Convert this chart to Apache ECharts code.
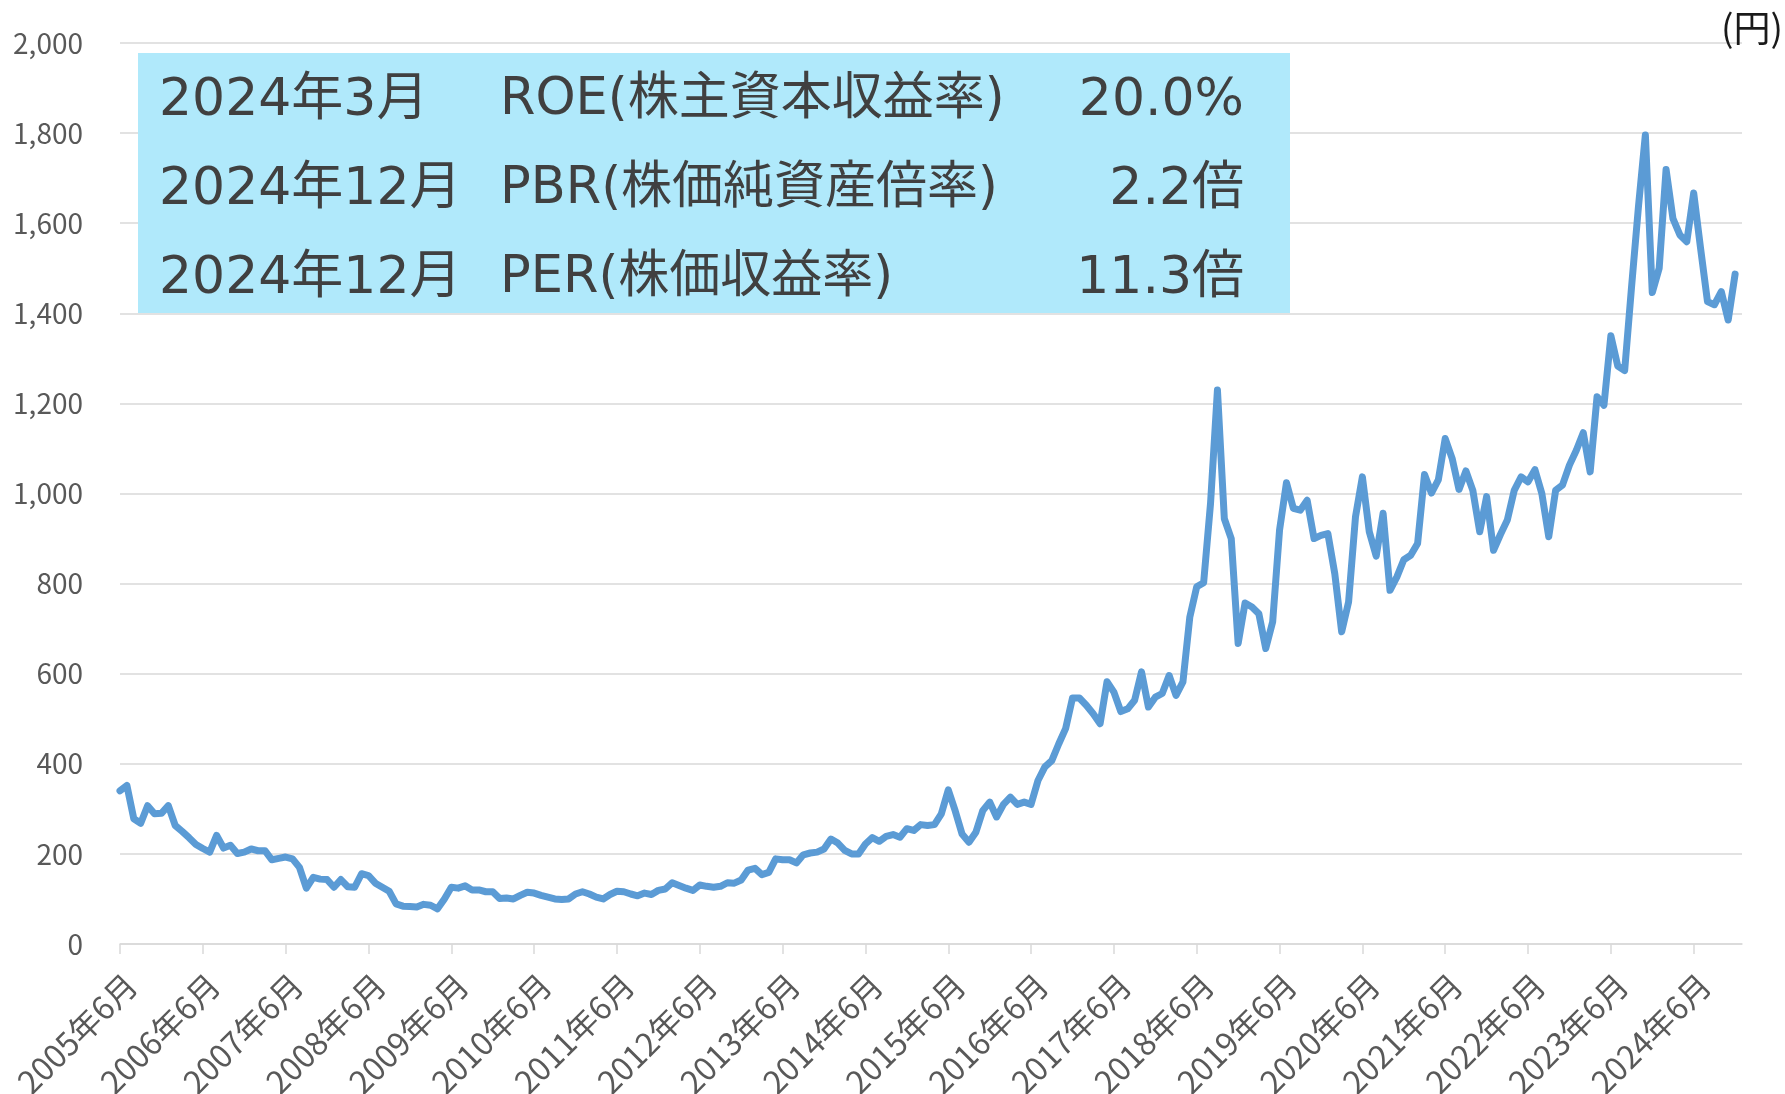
<!DOCTYPE html>
<html lang="ja">
<head>
    <meta charset="utf-8" />
    <title>株価推移</title>
    <script src="https://cdn.jsdelivr.net/npm/echarts@6.0.0/dist/echarts.min.js"></script>
    <style>
        html, body { margin: 0; padding: 0; background: #fff; }
        #main { width: 1785px; height: 1094px; }
    </style>
</head>
<body>
    <div id="main"></div>
    <script>
        // monthly closing price (円), 2005年6月 .. 2024年12月
        var priceValues = [
            340, 352, 278, 268, 307, 289, 290, 307, 263, 250, 236,
            221, 212, 204, 241, 213, 219, 201, 204, 211, 207,
            207, 187, 190, 193, 189, 170, 124, 148, 144, 143,
            126, 143, 127, 126, 156, 152, 135, 126, 117, 89,
            84, 83, 82, 88, 86, 78, 100, 126, 124, 129,
            120, 120, 116, 116, 101, 102, 100, 108, 115, 113,
            108, 104, 100, 99, 100, 111, 116, 111, 104, 100,
            110, 117, 116, 111, 107, 113, 110, 119, 122, 136,
            130, 124, 119, 131, 128, 126, 128, 136, 135, 142,
            164, 168, 154, 159, 189, 187, 187, 180, 198, 202,
            204, 211, 233, 224, 208, 200, 200, 222, 236, 228,
            239, 243, 237, 256, 252, 265, 263, 265, 289, 342,
            296, 244, 226, 248, 296, 315, 282, 310, 326, 310,
            315, 310, 363, 393, 407, 444, 478, 546, 546, 530,
            511, 489, 582, 559, 516, 522, 541, 604, 526, 548,
            556, 596, 552, 582, 726, 793, 802, 978, 1230, 944,
            900, 667, 757, 748, 733, 656, 715, 919, 1024, 967,
            963, 985, 900, 907, 911, 822, 693, 759, 948, 1037,
            915, 861, 956, 785, 815, 853, 863, 889, 1042, 1001,
            1030, 1122, 1078, 1009, 1050, 1007, 915, 993, 874, 909,
            941, 1007, 1037, 1026, 1053, 1000, 904, 1007, 1019, 1063,
            1096, 1135, 1048, 1215, 1196, 1350, 1283, 1273, 1459, 1637,
            1796, 1446, 1500, 1719, 1610, 1574, 1559, 1667, 1544, 1426,
            1419, 1448, 1385, 1487
        ];

        // axis runs one month past the last price (to 2025年1月)
        var startYear = 2005, startMonth = 6;
        var monthCount = 236;
        var categories = [];
        for (var i = 0; i < monthCount; i++) {
            var m = startMonth - 1 + i;
            categories.push((startYear + Math.floor(m / 12)) + '年' + (m % 12 + 1) + '月');
        }

        var yMin = 0, yMax = 2000, yStep = 200;
        var unitLabel = '(円)';

        // info box rows
        var infoDates = ['2024年3月', '2024年12月', '2024年12月'];
        var infoNames = ['ROE(株主資本収益率)', 'PBR(株価純資産倍率)', 'PER(株価収益率)'];
        var infoValues = ['20.0%', '2.2倍', '11.3倍'];

        var FONT = '"Noto Sans CJK JP", "Noto Sans", sans-serif';
        var BOX_FONT = '"DejaVu Sans", "Noto Sans CJK JP", sans-serif';
        var gridColor = '#D9D9D9';
        var labelColor = '#595959';

        function isJune(index) {
            return index % 12 === 0;
        }

        var graphics = [
            {
                type: 'rect',
                shape: { x: 138, y: 53, width: 1152, height: 260 },
                style: { fill: '#B0E9FB' },
                z: 10
            },
            {
                type: 'text',
                x: 1783, y: 28,
                style: { text: unitLabel, font: '37px ' + FONT, fill: '#1a1a1a', align: 'right', verticalAlign: 'middle' },
                z: 11
            }
        ];
        var rowY = [101, 190, 279];
        for (var r = 0; r < infoDates.length; r++) {
            graphics.push({
                type: 'text', x: 159, y: rowY[r], z: 11,
                style: { text: infoDates[r], font: '52px ' + BOX_FONT, fill: '#404040', align: 'left', verticalAlign: 'middle' }
            });
            graphics.push({
                type: 'text', x: 500, y: rowY[r], z: 11,
                style: { text: infoNames[r], font: '51px ' + BOX_FONT, fill: '#404040', align: 'left', verticalAlign: 'middle' }
            });
            graphics.push({
                type: 'text', x: 1244, y: rowY[r], z: 11,
                style: { text: infoValues[r], font: '52px ' + BOX_FONT, fill: '#404040', align: 'right', verticalAlign: 'middle' }
            });
        }

        var chart = echarts.init(document.getElementById('main'), null, { renderer: 'canvas' });
        var option = {
            animation: false,
            backgroundColor: '#ffffff',
            textStyle: { fontFamily: FONT },
            grid: {
                left: 120,
                right: 43,
                top: 43,
                bottom: 150,
                containLabel: false,
                outerBoundsMode: 'none'
            },
            xAxis: {
                type: 'category',
                data: categories,
                boundaryGap: false,
                axisLine: { lineStyle: { color: gridColor, width: 1.5 } },
                axisTick: {
                    show: true,
                    interval: isJune,
                    length: 10,
                    lineStyle: { color: gridColor, width: 1.5 }
                },
                axisLabel: {
                    interval: isJune,
                    rotate: 45,
                    margin: 24,
                    align: 'right',
                    verticalAlign: 'top',
                    fontSize: 32,
                    fontFamily: FONT,
                    color: labelColor
                },
                splitLine: { show: false }
            },
            yAxis: {
                type: 'value',
                min: yMin,
                max: yMax,
                interval: yStep,
                axisLine: { show: false },
                axisTick: { show: false },
                axisLabel: {
                    margin: 37,
                    fontSize: 28,
                    fontFamily: FONT,
                    color: labelColor,
                    formatter: function (v) { return v.toLocaleString('en-US'); }
                },
                splitLine: { lineStyle: { color: gridColor, width: 1.5 } }
            },
            series: [
                {
                    type: 'line',
                    data: priceValues,
                    symbol: 'none',
                    showSymbol: false,
                    lineStyle: { color: '#5B9BD5', width: 7, join: 'round', cap: 'round' },
                    z: 3
                }
            ],
            graphic: graphics
        };
        chart.setOption(option);
    </script>
</body>
</html>
